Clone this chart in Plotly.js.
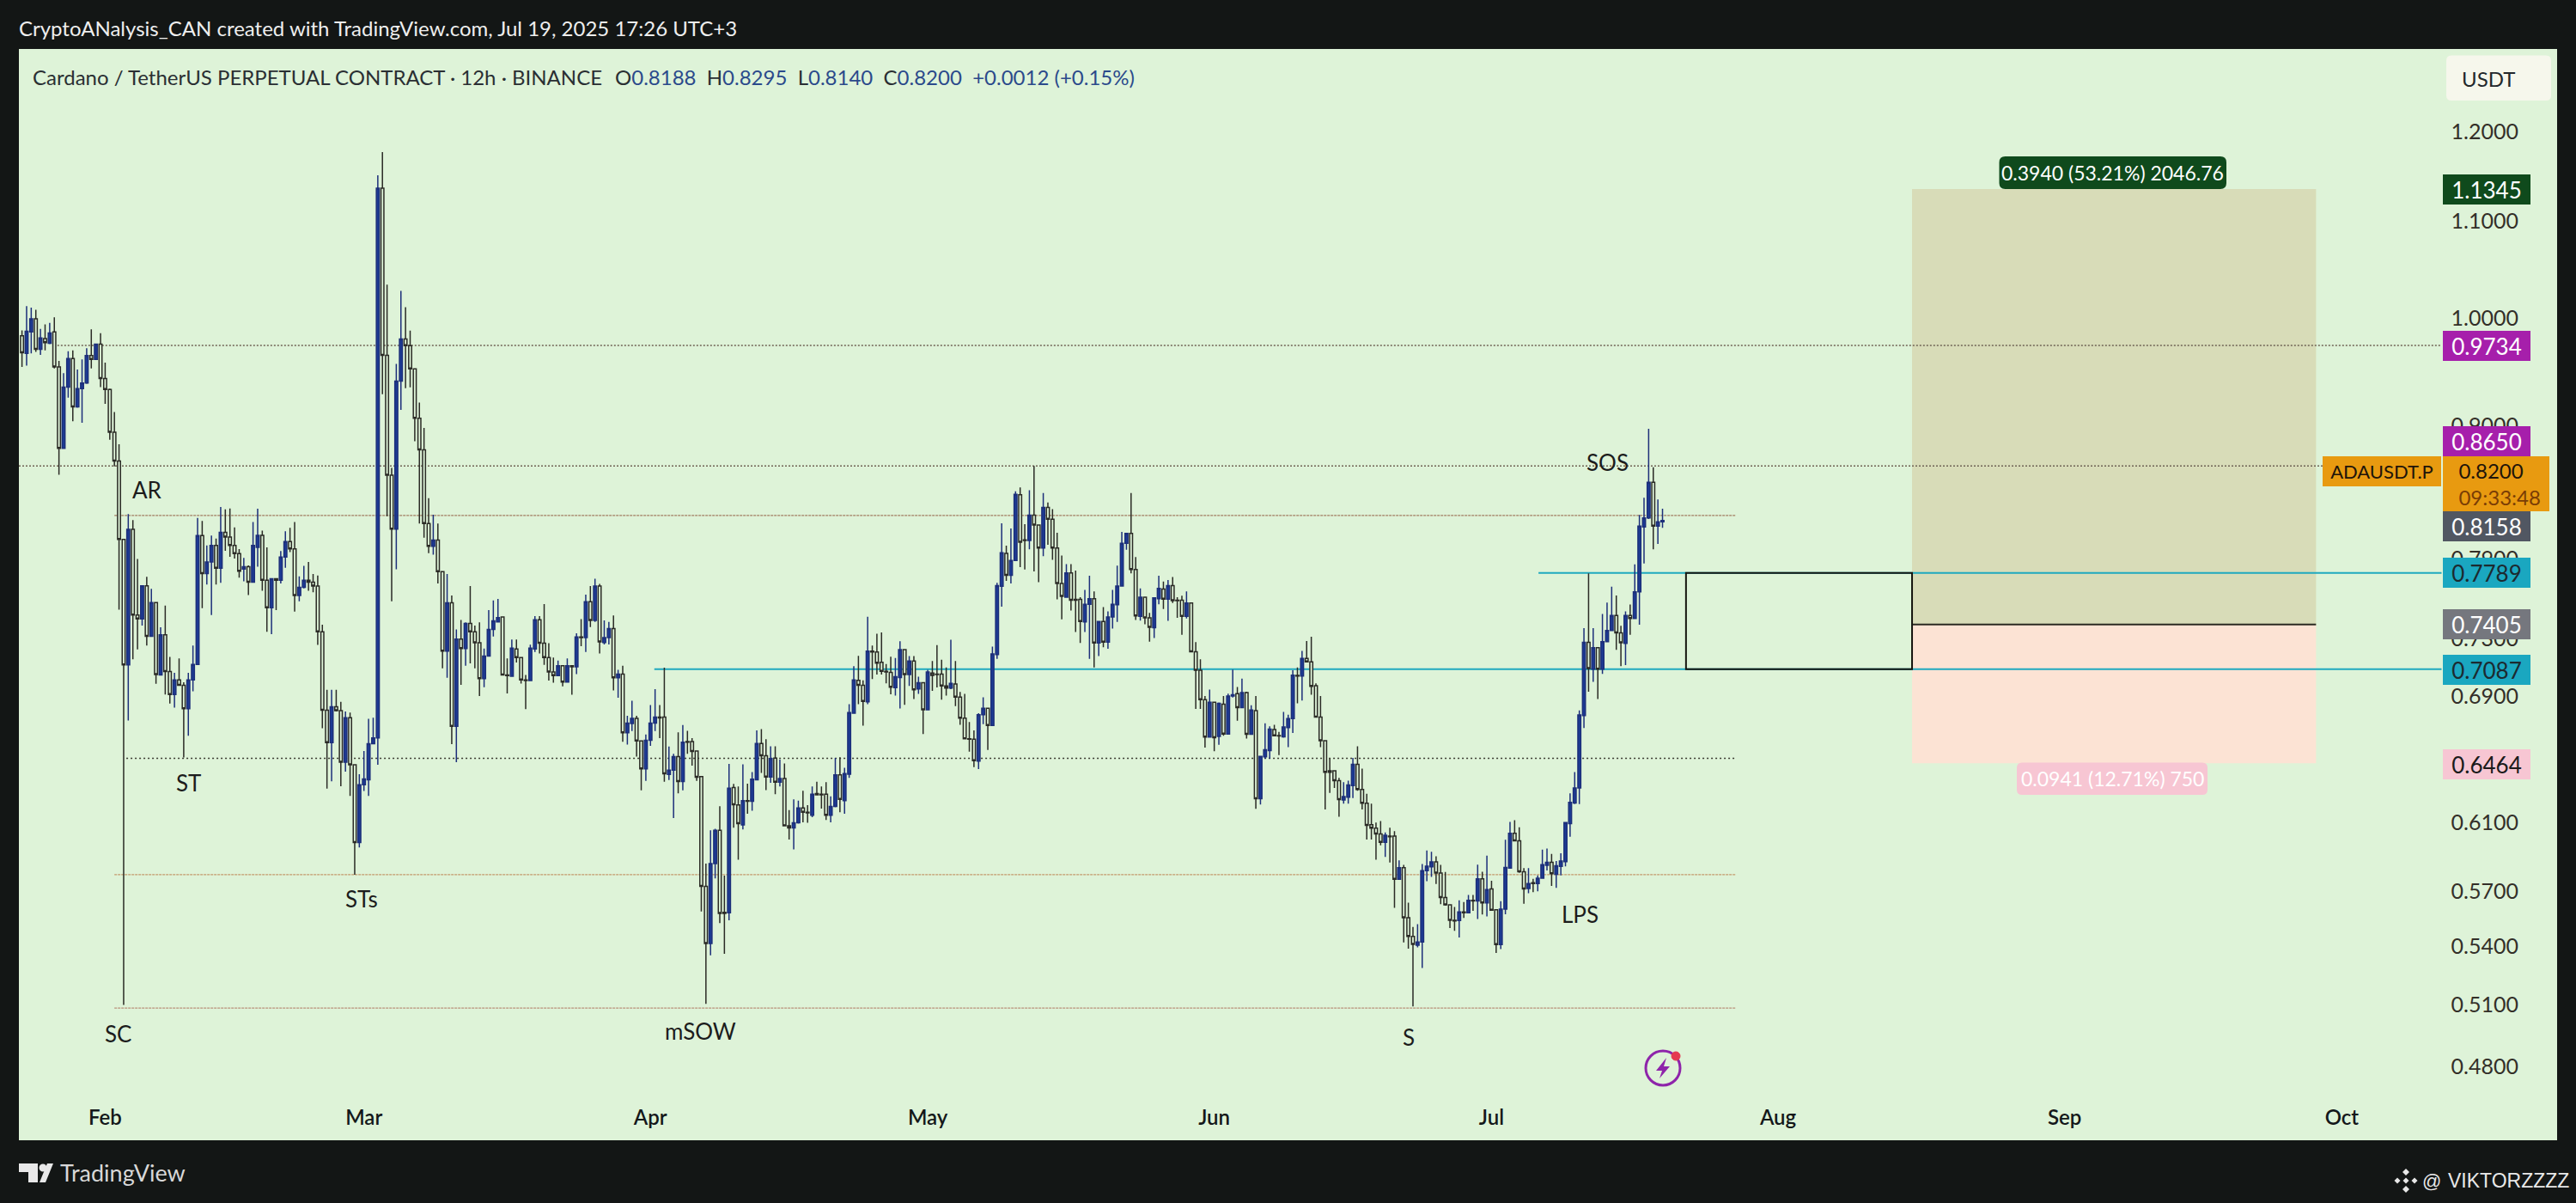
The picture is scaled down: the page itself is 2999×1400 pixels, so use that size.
<!DOCTYPE html>
<html><head><meta charset="utf-8">
<script src="https://cdn.plot.ly/plotly-3.0.1.min.js"></script>
<style>html,body{margin:0;padding:0;background:#131615;overflow:hidden}</style>
</head><body><div id="chart" style="width:2999px;height:1400px"></div>
<script>
const firstBar = Date.UTC(2025,0,23,0,0,0);
const barHours = 12;
const opens = [
.9826,.9658,.9864,.9991,.9696,.9799,.9755,.9864,.9530,.8801,
.9345,.9610,.9165,.9331,.9381,.9638,.9601,.9746,.9424,.9323,
.8940,.8692,.8049,.7118,.8129,.7474,.7446,.7691,.7319,.7565,
.7047,.7330,.7072,.6914,.7013,.6977,.6818,.7013,.7120,.8080,
.7784,.7872,.8001,.7825,.8104,.8068,.8001,.7937,.7819,.7837,
.7718,
.7987,.8081,.7733,.7528,.7744,.7733,.7911,.8032,.7975,.7618,
.7679,.7733,.7719,.7690,.7352,.6809,.6595,.6832,.6806,.6470,
.6758,.6454,.5980,.6329,.6359,.6589,.6626,1.1355,.9640,.8571,
.8130,.9399,.9795,.9731,.9512,.9064,.8787,.8175,.7994,.8043,
.7798,.7214,.7564,.6702,.7300,.7232,.7413,.7352,.7273,.7022,
.7179,.7369,
.7424,.7459,.7048,.7039,.7229,.7168,.7013,.7009,
.7229,.7439,.7270,.7168,.7068,.7043,.7112,.6999,.7112,.7104,
.7315,.7311,.7572,.7434,.7690,.7275,.7311,.7376,.7029,.7053,
.6659,.6720,.6754,.6607,.6428,.6611,.6723,.6763,.6763,.6393,
.6420,.6506,.6349,.6603,.6603,.6542,.6380,.5729,.5417,.5858,
.6052,.5585,.5582,.6311,
.6205,.6084,.6231,.6227,.6359,.6590,
.6511,.6377,.6496,.6345,.6368,.6080,.6066,.6097,.6187,.6161,
.6143,.6274,.6271,.6271,.6143,.6196,.6390,.6231,.6395,.6788,
.7010,.6977,.6864,.7214,.7208,.7135,.7073,.7065,.6960,.7030,
.7225,.7050,.7144,.6952,.6994,.6811,.7061,.7053,.7053,.6973,
.6958,.6985,.6897,.6755,.6621,.6618,
.6477,.6779,.6821,.6708,
.7190,.7688,.7940,.7771,.7884,.8409,.8045,.8041,.8243,.8163,
.7982,.8305,.8210,.7982,.7709,.7606,.7789,.7589,.7589,.7423,
.7553,.7595,.7272,.7427,.7278,.7459,.7549,.7689,.8018,.8097,
.7815,.7464,.7606,.7454,.7381,.7595,.7667,.7591,.7692,.7584,
.7584,.7464,.7563,.7210,.7081,.6879,.6632,.6861,
.6636,.6848,
.6651,.6903,.6919,.6825,.6927,.6650,.6806,.6243,.6504,.6544,
.6680,.6642,.6633,.6693,.6753,.7044,.7040,.7163,.7139,.6974,
.6762,.6608,.6416,.6416,.6354,.6235,.6252,.6323,.6456,.6300,
.6215,.6086,.6065,.6031,.5981,.6018,.6018,.5769,.5835,.5556,
.5455,.5408,.5425,.5818,.5840,.5868,.5804,.5667,.5626,.5541,
.5540,.5587,.5583,.5651,.5647,.5771,.5637,.5715,.5599,.5411,
.5603,.5832,.6035,.5991,.5811,.5717,.5749,.5745,.5775,.5848,
.5866,.5797,.5842,.5869,.6092,.6217,.6309,.6773,.7276,.7087,
.7238,.7087,.7281,.7362,.7470,.7344,.7269,.7470,.7449,.7645,
.8148,.8220,.8512,.8154,.8188];
const highs = [
.9878,1.0117,1.0102,1.0079,.9893,.9937,.9952,1.0006,.9587,.9473,
.9678,.9687,.9507,.9601,.9708,.9888,.9746,.9851,.9572,.9331,
.9118,.8835,.8049,.8252,.8203,.7896,.7691,.7760,.7668,.7565,
.7385,.7543,.7174,.7062,.7163,.6998,.7062,.7254,.8220,.8196,
.8001,.8080,.8056,.8309,.8290,.8297,.8145,.7973,.7905,.7847,
.8187,
.8294,.8118,.7987,.7744,.7744,.7957,.8113,.8140,.8187,.7762,
.7843,.7873,.7780,.7769,.7404,.6946,.6946,.6946,.6865,.6800,
.6793,.6454,.6395,.6542,.6751,.6758,1.1500,1.1765,1.0331,.8633,
.9560,1.0269,1.0106,.9877,.9512,.9203,.8978,.8381,.8246,.8175,
.7798,.7780,.7618,.7369,.7438,.7420,.7690,.7397,.7420,.7232,
.7510,.7582,
.7593,.7459,.7162,.7296,.7296,.7174,.7048,.7260,
.7466,.7466,.7555,.7270,.7168,.7148,.7114,.7162,.7112,.7341,
.7444,.7625,.7690,.7745,.7705,.7434,.7424,.7470,.7083,.7112,
.6771,.6872,.6771,.6607,.6648,.6843,.6950,.6843,.7098,.6570,
.6524,.6663,.6710,.6672,.6625,.6542,.6380,.5858,.6052,.6062,
.6197,.5790,.6459,.6334,
.6318,.6456,.6336,.6408,.6675,.6684,
.6618,.6572,.6572,.6486,.6462,.6173,.6239,.6231,.6292,.6204,
.6318,.6348,.6318,.6345,.6257,.6498,.6502,.6435,.6849,.7109,
.7181,.7010,.7462,.7254,.7338,.7347,.7123,.7175,.7165,.7285,
.7225,.7179,.7179,.7036,.6994,.7083,.7144,.7257,.7154,.7099,
.7295,.7144,.6932,.6918,.6730,.6675,
.6788,.6895,.6821,.7246,
.7714,.8177,.8000,.8135,.8438,.8470,.8170,.8446,.8650,.8163,
.8423,.8345,.8292,.8101,.7922,.7856,.7856,.7807,.7606,.7660,
.7767,.7649,.7431,.7532,.7501,.7660,.7845,.8108,.8101,.8423,
.7911,.7671,.7606,.7489,.7606,.7767,.7724,.7735,.7757,.7606,
.7617,.7649,.7563,.7278,.7156,.6904,.6947,.6861,
.6860,.6903,
.6919,.7084,.6965,.7023,.6933,.6841,.6903,.6507,.6721,.6702,
.6711,.6665,.6797,.6778,.7081,.7100,.7216,.7286,.7317,.6990,
.6903,.6612,.6492,.6420,.6371,.6345,.6354,.6498,.6572,.6429,
.6273,.6212,.6099,.6108,.6040,.6068,.6048,.5877,.5851,.5638,
.5505,.5521,.5856,.5934,.5927,.5900,.5851,.5810,.5630,.5614,
.5651,.5642,.5681,.5681,.5852,.5811,.5904,.5761,.5603,.5646,
.5997,.6103,.6113,.6071,.5832,.5832,.5771,.5791,.5939,.5945,
.5914,.5873,.5918,.6098,.6276,.6408,.6807,.7378,.7785,.7378,
.7238,.7481,.7565,.7684,.7618,.7396,.7500,.7552,.7855,.8244,
.8385,.8970,.8639,.8370,.8295];
const lows = [
.9530,.9544,.9658,.9673,.9644,.9687,.9746,.9516,.8575,.8801,
.9248,.9036,.9157,.9023,.9373,.9516,.9595,.9345,.9193,.8875,
.8645,.7513,.5100,.6740,.7157,.7226,.7397,.7254,.7319,.6987,
.7047,.6914,.6853,.6826,.6977,.6500,.6640,.6935,.7120,.7524,
.7700,.7474,.7700,.7714,.7959,.7912,.7900,.7753,.7725,.7622,
.7718,
.7836,.7654,.7352,.7335,.7510,.7708,.7828,.7949,.7499,.7575,
.7672,.7654,.7643,.7259,.6689,.6305,.6350,.6800,.6320,.6410,
.6260,.5795,.5951,.6290,.6260,.6589,.6454,.9280,.8234,.7575,
.7817,.9138,.9334,.9343,.8861,.8175,.8062,.7941,.7930,.7708,
.7094,.7028,.6586,.6470,.6979,.7111,.7128,.7094,.6904,.6963,
.7179,.7318,
.7424,.7043,.6921,.7035,.7134,.6989,.6815,.7009,
.7208,.7198,.7118,.7009,.6995,.7039,.6970,.6999,.6912,.7054,
.7249,.7208,.7386,.7424,.7198,.7262,.7262,.6941,.6892,.6601,
.6583,.6671,.6506,.6294,.6353,.6574,.6671,.6625,.6347,.6358,
.6125,.6276,.6294,.6524,.6448,.6353,.5590,.5106,.5355,.5774,
.5527,.5363,.5542,.6068,
.5880,.6058,.6152,.6170,.6359,.6402,
.6295,.6341,.6271,.6318,.6078,.5998,.5940,.6092,.6100,.6097,
.6131,.6267,.6183,.6114,.6100,.6190,.6161,.6152,.6372,.6788,
.6849,.6706,.6849,.7020,.7050,.7050,.6990,.6916,.6907,.6820,
.6845,.6972,.6883,.6918,.6651,.6811,.6938,.6962,.6879,.6907,
.6951,.6835,.6712,.6618,.6538,.6439,
.6427,.6716,.6549,.6708,
.7160,.7536,.7728,.7709,.7882,.7833,.7815,.7971,.7800,.7718,
.7917,.8007,.7889,.7589,.7443,.7606,.7507,.7350,.7272,.7350,
.7160,.7100,.7180,.7241,.7231,.7375,.7423,.7687,.7968,.7785,
.7437,.7433,.7406,.7282,.7307,.7553,.7518,.7431,.7563,.7454,
.7330,.7448,.7210,.6817,.6817,.6564,.6632,.6540,
.6581,.6640,
.6651,.6893,.6739,.6825,.6622,.6650,.6181,.6207,.6492,.6492,
.6636,.6516,.6627,.6566,.6658,.6854,.6873,.7139,.6913,.6758,
.6566,.6177,.6279,.6309,.6134,.6212,.6212,.6247,.6291,.6177,
.5998,.5998,.5881,.5964,.5897,.5864,.5610,.5769,.5423,.5390,
.5093,.5397,.5289,.5758,.5782,.5742,.5630,.5622,.5500,.5485,
.5449,.5554,.5579,.5593,.5548,.5573,.5563,.5593,.5367,.5388,
.5574,.5832,.5987,.5805,.5632,.5691,.5697,.5701,.5771,.5819,
.5731,.5721,.5791,.5842,.6014,.6210,.6210,.6690,.6933,.7000,
.6884,.7055,.7281,.7357,.7223,.7109,.7116,.7331,.7449,.7404,
.7861,.8211,.7971,.8014,.8140];
const closes = [
.9664,.9870,.9991,.9696,.9805,.9760,.9854,.9530,.8801,.9345,
.9610,.9165,.9331,.9381,.9638,.9601,.9746,.9424,.9323,.8940,
.8692,.8049,.7118,.8129,.7474,.7446,.7691,.7319,.7565,.7051,
.7330,.7072,.6914,.7013,.6977,.6818,.7013,.7120,.8080,.7784,
.7872,.8001,.7825,.8104,.8068,.8001,.7937,.7802,.7837,.7718,
.8001,
.8081,.7733,.7528,.7744,.7733,.7911,.8032,.7975,.7618,.7679,
.7733,.7719,.7690,.7352,.6809,.6595,.6832,.6806,.6470,.6758,
.6454,.5980,.6329,.6365,.6589,.6626,1.1355,.9640,.8571,.8130,
.9399,.9795,.9731,.9512,.9064,.8787,.8175,.7994,.8043,.7798,
.7214,.7564,.6702,.7300,.7232,.7413,.7352,.7273,.7022,.7179,
.7369,.7431,
.7455,.7048,.7043,.7235,.7168,.7013,.7009,.7235,
.7439,.7270,.7168,.7068,.7043,.7112,.6999,.7112,.7104,.7315,
.7311,.7572,.7434,.7690,.7279,.7311,.7376,.7029,.7053,.6659,
.6723,.6754,.6607,.6428,.6611,.6723,.6763,.6757,.6397,.6420,
.6506,.6349,.6598,.6598,.6539,.6376,.5729,.5417,.5858,.6052,
.5579,.5579,.6308,.6206,
.6092,.6231,.6227,.6363,.6590,.6511,
.6377,.6493,.6345,.6368,.6080,.6066,.6097,.6187,.6161,.6157,
.6271,.6267,.6267,.6143,.6196,.6390,.6239,.6399,.6793,.7014,
.6977,.6868,.7214,.7208,.7129,.7073,.7069,.6964,.7035,.7225,
.7050,.7144,.6946,.6994,.6811,.7069,.7044,.7050,.6973,.6958,
.6990,.6897,.6755,.6621,.6618,.6480,
.6779,.6821,.6708,.7194,
.7692,.7945,.7771,.7884,.8413,.8027,.8041,.8243,.8163,.7982,
.8305,.8210,.7982,.7709,.7612,.7789,.7584,.7584,.7427,.7553,
.7595,.7272,.7427,.7278,.7459,.7553,.7689,.8018,.8097,.7815,
.7468,.7606,.7454,.7385,.7601,.7671,.7591,.7692,.7580,.7580,
.7464,.7563,.7210,.7081,.6879,.6632,.6861,.6628,
.6854,.6651,
.6903,.6913,.6825,.6927,.6650,.6810,.6243,.6507,.6550,.6684,
.6640,.6638,.6697,.6753,.7046,.7040,.7163,.7139,.6970,.6762,
.6608,.6407,.6407,.6354,.6238,.6256,.6327,.6456,.6300,.6215,
.6082,.6065,.6031,.5981,.6023,.6014,.5769,.5835,.5556,.5455,
.5412,.5425,.5818,.5843,.5868,.5804,.5667,.5626,.5541,.5538,
.5587,.5583,.5651,.5647,.5771,.5637,.5711,.5597,.5411,.5603,
.5836,.6035,.5991,.5811,.5715,.5745,.5745,.5775,.5852,.5866,
.5801,.5846,.5873,.6098,.6221,.6309,.6777,.7276,.7092,.7238,
.7087,.7281,.7362,.7470,.7344,.7274,.7470,.7449,.7645,.8154,
.8220,.8512,.8154,.8188,.8200];

const times = opens.map((_, i) => new Date(firstBar + i * barHours * 3600000).toISOString());

const priceTicks = [1.2,1.1,1.0,0.9,0.79,0.73,0.69,0.61,0.57,0.54,0.51,0.48];
const priceTickText = priceTicks.map(v => v.toFixed(4));
const monthTicks = ['2025-02-01','2025-03-01','2025-04-01','2025-05-01','2025-06-01','2025-07-01','2025-08-01','2025-09-01','2025-10-01'];
const monthText = ['Feb','Mar','Apr','May','Jun','Jul','Aug','Sep','Oct'];

const levelPrices = [0.9734,0.8650,0.8240,0.6495,0.5795,0.5085,0.7087,0.7789];
const levelStart = ['2025-01-26 20:00','2025-01-22 16:00','2025-02-02 00:00','2025-02-03 07:00','2025-02-02 00:00','2025-02-02 00:00','2025-04-01 10:00','2025-07-06 02:00'];
const levelEnd = ['2025-10-11 19:00','2025-09-28 22:00','2025-07-27 11:00','2025-07-27 11:00','2025-07-27 11:00','2025-07-27 11:00','2025-10-11 19:00','2025-10-11 19:00'];
const levelColor = ['#6f6254','#6f6254','#a37e62','#3a3a30','#c39a6c','#b9917a','#1fa9bf','#1fa9bf'];
const levelDash = ['2px,2px','2px,2px','3px,1px','2px,3px','3px,1px','3px,1px','solid','solid'];
const levelWidth = [1.5,1.5,1.4,1.6,1.4,1.4,2,2];

const entry = 0.7405, target = 1.1345, stop = 0.6464;
const positionStart = '2025-08-15 12:00', positionEnd = '2025-09-28 05:00';
const boxStart = '2025-07-22 01:00', boxTop = 0.7789, boxBottom = 0.7087;

const chartLabels = ['AR','ST','STs','SC','mSOW','S','LPS','SOS'];
const chartLabelX = [171,219,421,137,815,1640,1839,1872];
const chartLabelY = [570,911,1046,1203,1200,1207,1064,538];

const tagText = ['1.1345','0.9734','0.8650','0.8158','0.7789','0.7405','0.7087','0.6464'];
const tagY = [220.4,402.5,513,612.8,666.8,726.8,779.5,889.3];
const tagBg = ['#0f4a1c','#a61fab','#a61fab','#515762','#1aa7c0','#75777e','#1aa7c0','#f7c6d3'];
const tagFg = ['#ffffff','#ffffff','#ffffff','#ffffff','#1c2a30','#ffffff','#1c2a30','#1b1b1b'];

const PL=22, PR=2977, PT=57, PB=1327;
const px = x => (x-PL)/(PR-PL);
const py = y => (PB-y)/(PB-PT);
const FONT = 'Lato, Roboto, sans-serif';
const PANEL = '#def3d8';

const note = (text,x,y,size,color,opt) => Object.assign({
  text, xref:'paper', yref:'paper', x:px(x), y:py(y), xanchor:'center', yanchor:'middle',
  showarrow:false, font:{family:FONT,size,color}, borderpad:0, borderwidth:0
}, opt||{});

const annotations = [];
annotations.push(note('CryptoANalysis_CAN created with TradingView.com, Jul 19, 2025 17:26 UTC+3',22,32,24,'#eeeeee',{xanchor:'left'}));
annotations.push(note('Cardano / TetherUS PERPETUAL CONTRACT · 12h · BINANCE',38,89,24,'#2a2f33',{xanchor:'left'}));
const v = s => '<span style="color:#2b4a8b">'+s+'</span>';
annotations.push(note('O'+v('0.8188')+'\u00a0\u00a0H'+v('0.8295')+'\u00a0\u00a0L'+v('0.8140')+'\u00a0\u00a0C'+v('0.8200')+'\u00a0\u00a0'+v('+0.0012 (+0.15%)'),716,89,24,'#2a2f33',{xanchor:'left'}));
chartLabels.forEach((t,i)=>annotations.push(note(t,chartLabelX[i],chartLabelY[i],26,'#1c1c1c')));
tagText.forEach((t,i)=>annotations.push(note(t,2894.7,tagY[i],26,tagFg[i],{bgcolor:tagBg[i],width:102,height:35})));
annotations.push(note('USDT',2897,91,24,'#23282b'));
annotations.push(note('0.3940 (53.21%) 2046.76',2459.7,201,23,'#ffffff'));
annotations.push(note('0.0941 (12.71%) 750',2459,906,23,'#ffffff'));
annotations.push(note('ADAUSDT.P',2772.8,548,22,'#20140a',{bgcolor:'#e89a10',width:138,height:35}));
annotations.push(note('\u00a0\u00a0\u00a00.8200<br>\u00a0\u00a0\u00a0<span style="color:#7a3d05">09:33:48</span>',2906,563,24,'#20140a',{bgcolor:'#e89a10',width:124,height:64,align:'left'}));
annotations.push(note('TradingView',70,1365,27,'#d8d8d8',{xanchor:'left'}));
annotations.push(note('@',2831,1374,24,'#e8e8e8',{font:{family:'Liberation Sans, Arial, sans-serif',size:22,color:'#e8e8e8'}}));
annotations.push(note('VIKTORZZZZ',2991,1374,24,'#e8e8e8',{xanchor:'right',font:{family:'Liberation Sans, Arial, sans-serif',size:23,color:'#e8e8e8'}}));

const shapes = [];
shapes.push({type:'rect',xref:'x',yref:'y',x0:positionStart,x1:positionEnd,y0:entry,y1:target,fillcolor:'#d8dcb8',line:{width:0},layer:'below'});
shapes.push({type:'rect',xref:'x',yref:'y',x0:positionStart,x1:positionEnd,y0:stop,y1:entry,fillcolor:'#fce3d4',line:{width:0},layer:'below'});
levelPrices.forEach((p,i)=>shapes.push({type:'line',xref:'x',yref:'y',x0:levelStart[i],x1:levelEnd[i],y0:p,y1:p,
  line:{color:levelColor[i],width:levelWidth[i],dash:levelDash[i]},layer:'below'}));
shapes.push({type:'line',xref:'x',yref:'y',x0:positionStart,x1:positionEnd,y0:entry,y1:entry,line:{color:'#2a2a22',width:2},layer:'below'});
shapes.push({type:'rect',xref:'x',yref:'y',x0:boxStart,x1:positionStart,y0:boxBottom,y1:boxTop,fillcolor:'rgba(0,0,0,0)',line:{color:'#15150f',width:2},layer:'below'});

const pathOf = pts => pts.map((p,i)=>(i?'L':'M')+px(p[0])+','+py(p[1])).join(' ')+' Z';
const fillPath = (pts,c) => ({type:'path',xref:'paper',yref:'paper',path:pathOf(pts),fillcolor:c,line:{width:0},layer:'above'});
const circle = (cx,cy,r,fill,line,w) => ({type:'circle',xref:'paper',yref:'paper',x0:px(cx-r),x1:px(cx+r),y0:py(cy+r),y1:py(cy-r),fillcolor:fill,line:{color:line,width:w},layer:'above'});
const roundBox = (x0,y0,x1,y1,r,c) => {
  const P=(x,y)=>px(x)+','+py(y);
  return {type:'path',xref:'paper',yref:'paper',fillcolor:c,line:{width:0},layer:'above',
    path:'M'+P(x0+r,y0)+' L'+P(x1-r,y0)+' Q'+P(x1,y0)+' '+P(x1,y0+r)+' L'+P(x1,y1-r)+' Q'+P(x1,y1)+' '+P(x1-r,y1)+
         ' L'+P(x0+r,y1)+' Q'+P(x0,y1)+' '+P(x0,y1-r)+' L'+P(x0,y0+r)+' Q'+P(x0,y0)+' '+P(x0+r,y0)+' Z'};
};
shapes.push(roundBox(2327.5,182,2592,220,7,'#0f4a1c'));
shapes.push(roundBox(2348,887.5,2570,925,6,'#f7c6d3'));
shapes.push(roundBox(2848,64.5,2970,117,6,'#f6f7ec'));
// lightning badge
shapes.push(circle(1936,1243,20,'rgba(0,0,0,0)','#8e24aa',3));
shapes.push(fillPath([[1940,1231],[1928,1246],[1935,1246],[1932,1255],[1944,1241],[1937,1241]],'#8e24aa'));
shapes.push(circle(1951,1229,5,'#e53950','#e53950',1));
// TradingView logo
shapes.push(fillPath([[22,1354],[44,1354],[44,1376],[33,1376],[33,1364],[22,1364]],'#e8e8e8'));
shapes.push(circle(50,1359,4.5,'#e8e8e8','#e8e8e8',0));
shapes.push(fillPath([[46,1376],[55,1354],[62,1354],[53,1376]],'#e8e8e8'));
// Binance style mark
const dm = (cx,cy,r)=>fillPath([[cx,cy-r],[cx+r,cy],[cx,cy+r],[cx-r,cy]],'#e8e8e8');
[[2801,1374,3.5],[2791,1374,3.5],[2811,1374,3.5],[2801,1364,4],[2801,1384,4]].forEach(d=>shapes.push(dm(d[0],d[1],d[2])));

const candles = {
  type:'candlestick', x:times, open:opens, high:highs, low:lows, close:closes,
  whiskerwidth:0,
  increasing:{line:{color:'#1d2f7a',width:1.5},fillcolor:'#1c3b95'},
  decreasing:{line:{color:'#2b2b26',width:1.5},fillcolor:PANEL},
  hoverinfo:'skip', showlegend:false
};

const layout = {
  width:2999, height:1400, autosize:false,
  margin:{l:PL,r:2999-PR,t:PT,b:1400-PB,pad:0},
  paper_bgcolor:'#131615', plot_bgcolor:PANEL,
  showlegend:false, boxgap:0.1, dragmode:false,
  xaxis:{type:'date', range:['2025-01-22 16:00','2025-10-24 07:00'], rangeslider:{visible:false},
    tickmode:'array', tickvals:monthTicks, ticktext:monthText, ticklabelposition:'inside', ticklabelstandoff:10,
    tickfont:{family:FONT,size:24,color:'#14181a',weight:600}, ticks:'', showgrid:false, zeroline:false, showline:false},
  yaxis:{type:'log', side:'right', range:[Math.log10(0.4467),Math.log10(1.3015)],
    tickmode:'array', tickvals:priceTicks, ticktext:priceTickText, ticklabelposition:'inside', ticklabelstandoff:42,
    tickfont:{family:FONT,size:25,color:'#332f28'}, ticks:'', showgrid:false, zeroline:false, showline:false},
  shapes, annotations
};
Plotly.newPlot('chart',[candles],layout,{displayModeBar:false,staticPlot:true});
</script></body></html>
